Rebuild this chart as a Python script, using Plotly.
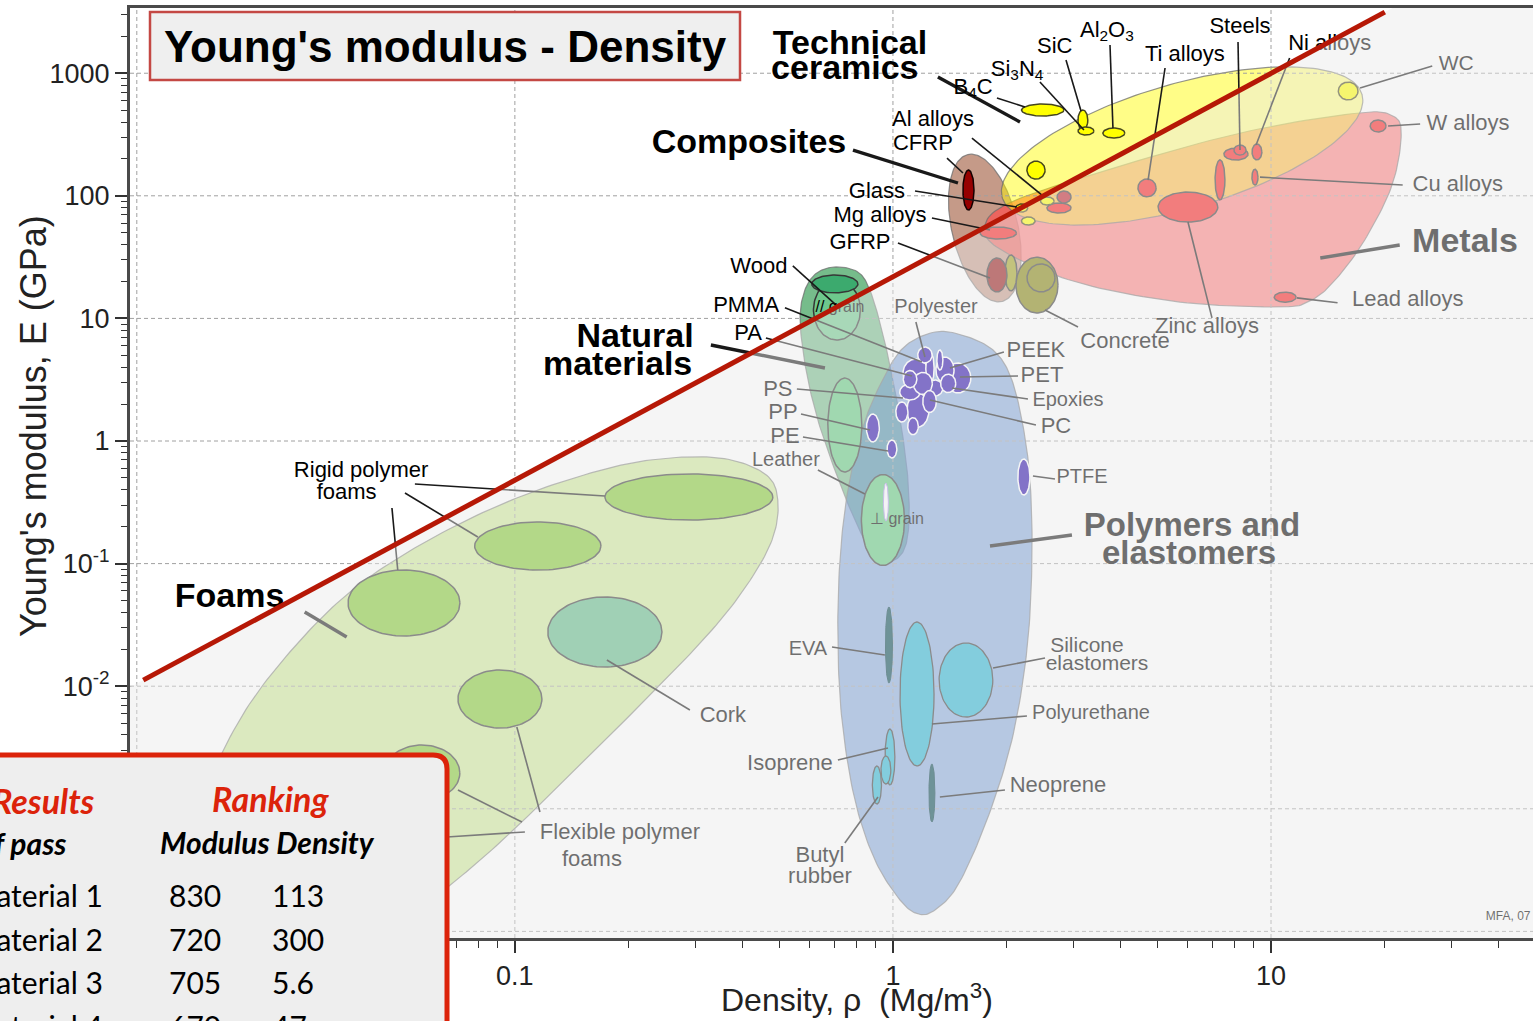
import numpy as np
import plotly.graph_objects as go

FONT = "Liberation Sans, Arial, sans-serif"
TABLE_FONT = "Lato, Carlito, sans-serif"

# ---------------- axes ----------------
X_RANGE = [-2.018, 1.693]   # log10 density (Mg/m3)
Y_RANGE = [-4.054, 3.532]   # log10 modulus (GPa)
W, H = 1533, 1021
M = dict(l=130, r=0, t=8, b=83)
PW = W - M["l"] - M["r"]
PH = H - M["t"] - M["b"]
# screen length of one x-decade relative to one y-decade
K = (PW / (X_RANGE[1] - X_RANGE[0])) / (PH / (Y_RANGE[1] - Y_RANGE[0]))

X_TICKS = [0.01, 0.1, 1, 10]
X_TICKTEXT = ["0.01", "0.1", "1", "10"]
Y_TICKS = [1e-4, 1e-3, 1e-2, 1e-1, 1, 10, 100, 1000]
Y_TICKTEXT = ["10<sup>-4</sup>", "10<sup>-3</sup>", "10<sup>-2</sup>", "10<sup>-1</sup>",
              "1", "10", "100", "1000"]
X_MINOR = [m * 10.0 ** k for k in range(-2, 2) for m in range(2, 10)]
Y_MINOR = [m * 10.0 ** k for k in range(-4, 4) for m in range(2, 10)]

# ---------------- selection line ----------------
LINE_RHO = [0.0104, 20.0]
LINE_E = [0.0112, 3150]

# ---------------- family envelopes ----------------
FOAMS_RHO = [0.496, 0.479, 0.406, 0.318, 0.221, 0.144, 0.0941, 0.0673, 0.0439, 0.0199,
             0.0151, 0.0151, 0.0187, 0.0254, 0.0366, 0.0561, 0.0913, 0.149, 0.228, 0.349, 0.459]
FOAMS_E = [0.330, 0.156, 0.0632, 0.0247, 0.00772, 0.00207, 0.000578, 0.000239, 0.0000935,
           0.0000935, 0.000262, 0.00118, 0.0053, 0.019, 0.0586, 0.142, 0.301, 0.518, 0.700,
           0.727, 0.538]

NATURAL_RHO = [0.707, 0.808, 0.869, 0.935, 1.0, 1.056, 1.096, 1.102, 1.063, 0.970, 0.880,
               0.793, 0.702, 0.633, 0.589, 0.568, 0.585, 0.629]
NATURAL_E = [26.3, 23.9, 17.05, 8.04, 3.145, 1.229, 0.481, 0.2065, 0.1244, 0.1031, 0.1244,
             0.2268, 0.580, 1.484, 3.794, 9.70, 17.05, 23.5]

POLYMER_RHO = [1.292, 1.551, 1.840, 2.040, 2.194, 2.304, 2.332, 2.262, 2.064, 1.773, 1.486,
               1.292, 1.165, 1.044, 0.896, 0.793, 0.733, 0.715, 0.724, 0.760, 0.828, 0.924, 1.063]
POLYMER_E = [7.75, 7.19, 5.525, 3.454, 1.484, 0.481, 0.107, 0.01974, 0.00364, 0.00081,
             0.000239, 0.0001495, 0.0001387, 0.0001803, 0.000382, 0.00118, 0.0053, 0.02381,
             0.107, 0.3984, 1.229, 2.862, 5.735]

METALS_RHO = [1.978, 3.53, 8.28, 16.9, 21.0, 22.1, 20.9, 17.7, 14.8, 12.8, 10.6, 5.74, 3.12,
              2.04, 1.75]
METALS_E = [84.1, 156, 325, 473, 448, 313, 122, 43.6, 20.6, 14.1, 12.4, 13.6, 19.4, 32.9, 50.7]

# centre (rho, E), half axes (in x-decade screen units), tilt in degrees
CERAMICS_ENV = (5.82, 255, 0.495, 0.165, 16)
COMPOSITES_ENV = (1.75, 54.6, 0.1995, 0.0873, 103)

# ---------------- material bubbles: centre and half-range in decades ----------------
FOAM_RHO = [0.2886, 0.1150, 0.0509, 0.0913, 0.0568]
FOAM_E = [0.3494, 0.1391, 0.04772, 0.00786, 0.00196]
FOAM_DR = [0.222, 0.167, 0.148, 0.111, 0.100]
FOAM_DE = [0.188, 0.196, 0.269, 0.237, 0.228]

CORK = (0.173, 0.02767, 0.151, 0.286)

NAT_RHO = [0.711, 0.702, 0.746, 0.941]
NAT_E = [11.7, 19.1, 1.35, 0.2268]
NAT_DR = [0.062, 0.061, 0.045, 0.057]
NAT_DE = [0.245, 0.073, 0.383, 0.371]
NAT_FILL = ["rgb(110,200,140)", "rgb(60,170,110)", "rgb(95,200,125)", "rgb(95,200,125)"]
GRAIN_STREAK = (0.958, 0.318, 0.0066, 0.155)

POLY_RHO = [0.885, 0.994, 2.22, 1.486, 1.373, 1.150, 1.253, 1.165, 1.109, 1.056, 1.292, 1.215,
            1.331, 1.20, 1.11, 1.25, 1.40, 1.13]
POLY_E = [1.277, 0.860, 0.5085, 3.265, 3.794, 3.586, 3.939, 1.790, 2.51, 1.724, 2.705, 5.03,
          4.58, 2.95, 3.20, 2.10, 2.95, 1.32]
POLY_DR = [0.017, 0.013, 0.016, 0.034, 0.024, 0.034, 0.011, 0.029, 0.027, 0.016, 0.021, 0.019,
           0.008, 0.025, 0.018, 0.018, 0.020, 0.014]
POLY_DE = [0.114, 0.073, 0.147, 0.122, 0.106, 0.114, 0.131, 0.139, 0.065, 0.082, 0.065, 0.065,
           0.082, 0.090, 0.070, 0.090, 0.075, 0.070]

ELAST_RHO = [1.158, 1.560, 0.982, 0.958, 0.907]
ELAST_E = [0.00864, 0.01123, 0.002646, 0.002072, 0.001563]
ELAST_DR = [0.045, 0.071, 0.013, 0.013, 0.012]
ELAST_DE = [0.587, 0.302, 0.228, 0.114, 0.155]

THIN_RHO = [0.976, 1.268]          # EVA, neoprene
THIN_E = [0.02168, 0.001345]
THIN_DR = [0.0093, 0.0079]
THIN_DE = [0.31, 0.2365]

METAL_RHO = [6.03, 7.33, 8.08, 8.28, 9.18, 9.07, 4.70, 19.2, 10.9, 2.75, 1.90]
METAL_E = [81.0, 135, 219, 236, 228, 142, 116, 371, 14.9, 79.5, 49.7]
METAL_DR = [0.079, 0.013, 0.032, 0.016, 0.013, 0.008, 0.024, 0.021, 0.029, 0.032, 0.048]
METAL_DE = [0.122, 0.163, 0.049, 0.041, 0.065, 0.065, 0.073, 0.049, 0.041, 0.041, 0.049]
STEEL_DARK = (2.835, 97.8, 0.0185, 0.049)

CERAMIC_RHO = [2.49, 3.18, 3.24, 3.84, 2.39, 16.0, 2.56, 2.28, 2.19]
CERAMIC_E = [501, 415, 338, 325, 162, 716, 90.7, 62.3, 79.5]
CERAMIC_DR = [0.056, 0.013, 0.021, 0.029, 0.024, 0.026, 0.018, 0.018, 0.016]
CERAMIC_DE = [0.049, 0.082, 0.033, 0.041, 0.073, 0.073, 0.033, 0.033, 0.033]

CONCRETE = [(2.404, 18.7, 0.0556, 0.228), (2.052, 23.5, 0.0159, 0.147)]
CONCRETE_CORE = (2.464, 21.4, 0.037, 0.114)
GFRP = (1.884, 22.6, 0.0265, 0.139)
CFRP = (1.584, 111.5, 0.0146, 0.163)

# ---------------- labels ----------------
LABEL_TEXT = [
    "<b>Technical</b>", "<b>ceramics</b>", "<b>Composites</b>", "<b>Natural</b>", "<b>materials</b>",
    "<b>Foams</b>", "<b>Metals</b>", "<b>Polymers and</b>", "<b>elastomers</b>",
    "SiC", "Al<sub>2</sub>O<sub>3</sub>", "Steels", "Ti alloys", "Ni alloys",
    "Si<sub>3</sub>N<sub>4</sub>", "B<sub>4</sub>C", "WC", "W alloys", "Cu alloys", "Lead alloys",
    "Zinc alloys", "Concrete", "Al alloys", "CFRP", "Glass", "Mg alloys", "GFRP", "Wood", "PMMA",
    "PA", "Polyester", "// grain", "PEEK", "PET", "Epoxies", "PC", "PS", "PP", "PE", "Leather",
    "PTFE", "⊥ grain", "EVA", "Silicone", "elastomers", "Polyurethane", "Isoprene", "Neoprene",
    "Butyl", "rubber", "Cork", "Flexible polymer", "foams", "Rigid polymer", "foams", "MFA, 07",
]
LABEL_RHO = [
    0.770, 0.746, 0.416, 0.208, 0.187, 0.0176, 32.6, 6.18, 6.07,
    2.68, 3.68, 8.28, 5.92, 14.3, 2.13, 1.63, 30.9, 33.2, 31.2, 23.0,
    6.77, 4.11, 1.276, 1.200, 0.907, 0.924, 0.818, 0.442, 0.409,
    0.414, 1.300, 0.724, 2.389, 2.479, 2.904, 2.699, 0.496, 0.512, 0.518, 0.521,
    3.162, 1.025, 0.596, 3.26, 3.465, 3.341, 0.534, 2.732,
    0.641, 0.641, 0.355, 0.1896, 0.1599, 0.0392, 0.0359, 42.4,
]
LABEL_E = [
    1698, 1062, 260, 6.92, 4.02, 0.0524, 40.5, 0.195, 0.115,
    1636, 2209, 2381, 1408, 1730, 1062, 757, 1166, 385, 122.5, 13.9,
    8.51, 6.42, 415, 260, 107.4, 67.2, 41.2, 25.8, 12.6,
    7.46, 12.2, 12.2, 5.42, 3.39, 2.12, 1.277, 2.606, 1.692, 1.078, 0.687,
    0.499, 0.2268, 0.01974, 0.02088, 0.01489, 0.005933, 0.002277, 0.001506,
    0.0004045, 0.0002727, 0.005609, 0.000623, 0.000382, 0.569, 0.3765, 0.000131,
]
LABEL_SIZE = [
    34, 34, 34, 34, 34, 34, 34, 33, 33,
    22, 22, 22, 22, 22, 22, 22, 21, 22, 22, 22,
    22, 22, 22, 22, 22, 22, 22, 22, 22,
    22, 20, 16, 22, 22, 20, 22, 22, 22, 22, 20,
    20, 16, 20, 21, 21, 20, 22, 22,
    22, 22, 22, 22, 22, 22, 22, 12,
]

# leader lines: (rho_a, E_a, rho_b, E_b)
LEADERS_THICK = [
    (1.315, 931, 2.168, 400), (0.784, 236, 1.486, 127.2), (0.330, 6.07, 0.661, 3.94),
    (0.0278, 0.0403, 0.0359, 0.0252), (21.9, 39.7, 13.5, 31.1), (2.975, 0.1711, 1.806, 0.1391),
]
LEADERS_THIN = [
    (2.869, 1281, 3.144, 492), (3.751, 1698, 3.819, 357), (8.18, 1797, 8.28, 236),
    (5.245, 1103, 4.73, 134.5), (11.2, 1331, 9.13, 260), (2.448, 848, 3.20, 344),
    (1.884, 628, 2.235, 530), (26.7, 1145, 17.2, 757), (24.8, 385, 20.4, 371),
    (22.3, 122.5, 9.35, 142), (15.0, 13.4, 11.7, 14.7), (6.98, 10.1, 6.03, 61.1),
    (3.087, 8.51, 2.525, 11.7), (1.618, 296, 2.479, 101.5), (1.390, 203, 1.532, 153.5),
    (1.144, 109.4, 2.128, 81.0), (1.268, 65.9, 1.806, 52.6), (1.031, 41.2, 1.806, 21.4),
    (0.5435, 26.8, 0.7067, 12.9), (0.518, 12.2, 1.193, 4.41), (0.4613, 6.92, 1.123, 3.39),
    (1.150, 9.35, 1.215, 4.84), (1.966, 5.32, 1.415, 3.94), (2.142, 3.39, 1.504, 3.327),
    (2.276, 2.20, 1.433, 2.705), (2.389, 1.35, 1.253, 2.16), (0.557, 2.656, 1.063, 2.242),
    (0.5712, 1.661, 0.8695, 1.229), (0.578, 1.078, 0.970, 0.829), (0.633, 0.580, 0.843, 0.3696),
    (2.346, 0.5183, 2.683, 0.49), (0.690, 0.02088, 0.952, 0.01797),
    (1.840, 0.01407, 2.525, 0.01698), (1.268, 0.004917, 2.262, 0.005713),
    (0.715, 0.0025, 0.970, 0.003132), (0.746, 0.000526, 0.913, 0.001248),
    (1.331, 0.001248, 1.978, 0.001423), (0.1751, 0.01636, 0.2904, 0.0064),
    (0.0544, 0.446, 0.173, 0.356), (0.0512, 0.3765, 0.0798, 0.1648), (0.0473, 0.2842, 0.049, 0.0887),
    (0.1165, 0.000942, 0.1012, 0.004647), (0.1063, 0.000647, 0.0661, 0.000589),
    (0.1044, 0.00078, 0.0707, 0.001423),
]

# ---------------- results table ----------------
TABLE_MATERIALS = ["Material 1", "Material 2", "Material 3", "Material 4"]
TABLE_MODULUS = [830, 720, 705, 670]
TABLE_DENSITY = [113, 300, 5.6, 47]


# ---------------- geometry helpers ----------------
def ellipse(rho, E, dr, de, n=100):
    t = np.linspace(0, 2 * np.pi, n)
    return 10 ** (np.log10(rho) + dr * np.cos(t)), 10 ** (np.log10(E) + de * np.sin(t))


def tilted_ellipse(rho, E, a, b, ang, n=200):
    t = np.linspace(0, 2 * np.pi, n)
    th = np.radians(ang)
    u, v = a * np.cos(t), b * np.sin(t)
    X = u * np.cos(th) - v * np.sin(th)
    Y = u * np.sin(th) + v * np.cos(th)
    return 10 ** (np.log10(rho) + X), 10 ** (np.log10(E) + Y * K)


def closed_spline(rhos, Es, per=14):
    P = np.column_stack([np.log10(rhos), np.log10(Es)])
    n = len(P)
    out = []
    for i in range(n):
        p0, p1, p2, p3 = P[(i - 1) % n], P[i], P[(i + 1) % n], P[(i + 2) % n]
        for t in np.linspace(0, 1, per, endpoint=False):
            out.append(0.5 * (2 * p1 + (-p0 + p2) * t + (2 * p0 - 5 * p1 + 4 * p2 - p3) * t * t
                              + (-p0 + 3 * p1 - 3 * p2 + p3) * t ** 3))
    out.append(out[0])
    out = np.array(out)
    return 10 ** out[:, 0], 10 ** out[:, 1]


def px(xp):
    return (xp - M["l"]) / PW


def py(yp):
    return (H - M["b"] - yp) / PH


fig = go.Figure()


def area(x, y, fill, line="rgba(110,110,110,0.75)", lw=1.2):
    fig.add_trace(go.Scatter(x=x, y=y, mode="lines", fill="toself", fillcolor=fill,
                             line=dict(color=line, width=lw), hoverinfo="skip", showlegend=False))


def blobs(rhos, Es, drs, des, fill, line="rgb(55,55,55)", lw=1.5):
    fills = fill if isinstance(fill, list) else [fill] * len(rhos)
    for r, e, dr, de, f in zip(rhos, Es, drs, des, fills):
        x, y = ellipse(r, e, dr, de)
        fig.add_trace(go.Scatter(x=x, y=y, mode="lines", fill="toself" if f else "none",
                                 fillcolor=f, line=dict(color=line, width=lw),
                                 hoverinfo="skip", showlegend=False))


# envelopes
area(*closed_spline(FOAMS_RHO, FOAMS_E), "rgba(180,220,100,0.65)")
area(*closed_spline(NATURAL_RHO, NATURAL_E), "rgba(60,160,90,0.7)")
area(*closed_spline(POLYMER_RHO, POLYMER_E), "rgba(40,100,190,0.55)")
area(*tilted_ellipse(*COMPOSITES_ENV), "rgba(172,111,85,0.7)")
area(*closed_spline(METALS_RHO, METALS_E), "rgba(252,79,79,0.7)")
area(*tilted_ellipse(*CERAMICS_ENV), "rgba(255,250,0,0.47)")

# decade grid
gx, gy = [], []
for v in X_TICKS:
    gx += [v, v, None]
    gy += [10 ** Y_RANGE[0], 10 ** Y_RANGE[1], None]
for v in Y_TICKS:
    gx += [10 ** X_RANGE[0], 10 ** X_RANGE[1], None]
    gy += [v, v, None]
fig.add_trace(go.Scatter(x=gx, y=gy, mode="lines", line=dict(color="rgb(160,160,160)", width=1, dash="4px,3px"),
                         hoverinfo="skip", showlegend=False))

# bubbles
blobs(FOAM_RHO, FOAM_E, FOAM_DR, FOAM_DE, "rgb(130,200,50)")
blobs([CORK[0]], [CORK[1]], [CORK[2]], [CORK[3]], "rgb(95,185,135)")
blobs(NAT_RHO, NAT_E, NAT_DR, NAT_DE, NAT_FILL)
blobs([GRAIN_STREAK[0]], [GRAIN_STREAK[1]], [GRAIN_STREAK[2]], [GRAIN_STREAK[3]],
      "rgb(252,252,255)", line="rgb(170,150,230)", lw=1)
blobs(ELAST_RHO, ELAST_E, ELAST_DR, ELAST_DE, "rgb(40,180,210)", lw=1.3)
blobs(THIN_RHO, THIN_E, THIN_DR, THIN_DE, "rgb(0,70,80)", line="rgb(0,60,70)", lw=1)
blobs(POLY_RHO, POLY_E, POLY_DR, POLY_DE, "rgb(40,10,170)", line="white", lw=1.5)
blobs([c[0] for c in CONCRETE], [c[1] for c in CONCRETE], [c[2] for c in CONCRETE],
      [c[3] for c in CONCRETE], ["rgb(130,130,10)", "rgb(160,160,30)"])
blobs([CONCRETE_CORE[0]], [CONCRETE_CORE[1]], [CONCRETE_CORE[2]], [CONCRETE_CORE[3]], None)
blobs([GFRP[0]], [GFRP[1]], [GFRP[2]], [GFRP[3]], "rgb(150,20,20)")
blobs(METAL_RHO, METAL_E, METAL_DR, METAL_DE, "rgb(250,30,30)")
blobs([STEEL_DARK[0]], [STEEL_DARK[1]], [STEEL_DARK[2]], [STEEL_DARK[3]], "rgb(190,30,40)")
blobs(CERAMIC_RHO, CERAMIC_E, CERAMIC_DR, CERAMIC_DE, "rgb(255,255,0)", line="rgb(70,70,30)")
blobs([CFRP[0]], [CFRP[1]], [CFRP[2]], [CFRP[3]], "rgb(150,0,0)", line="rgb(20,0,0)")


def leader_trace(segs, width):
    x, y = [], []
    for a, b, c, d in segs:
        x += [a, c, None]
        y += [b, d, None]
    fig.add_trace(go.Scatter(x=x, y=y, mode="lines", line=dict(color="rgb(25,25,25)", width=width),
                             hoverinfo="skip", showlegend=False))


leader_trace(LEADERS_THIN, 1.6)
leader_trace(LEADERS_THICK, 3.4)

fig.add_trace(go.Scatter(x=LABEL_RHO, y=LABEL_E, text=LABEL_TEXT, mode="text",
                         textposition="middle center",
                         textfont=dict(family=FONT, size=LABEL_SIZE, color="black"),
                         hoverinfo="skip", showlegend=False))

# shading of the region below the selection line
lx1, lx2 = np.log10(LINE_RHO)
ly1, ly2 = np.log10(LINE_E)
s = (ly2 - ly1) / (lx2 - lx1)
xa = X_RANGE[0] - 0.05
ya = ly1 + s * (xa - lx1)
yb = Y_RANGE[1] + 0.05
xb = lx1 + (yb - ly1) / s
ox = [xa, xb, X_RANGE[1] + 0.05, X_RANGE[1] + 0.05, xa, xa]
oy = [ya, yb, yb, Y_RANGE[0] - 0.05, Y_RANGE[0] - 0.05, ya]
fig.add_trace(go.Scatter(x=[10 ** v for v in ox], y=[10 ** v for v in oy], mode="lines",
                         fill="toself", fillcolor="rgba(234,234,234,0.47)", line=dict(width=0),
                         hoverinfo="skip", showlegend=False))

fig.add_trace(go.Scatter(x=LINE_RHO, y=LINE_E, mode="lines",
                         line=dict(color="rgb(182,24,6)", width=5),
                         hoverinfo="skip", showlegend=False))

# ---------------- layout ----------------
axis_common = dict(type="log", showgrid=False, zeroline=False, showline=True,
                   linecolor="#4a4a4a", linewidth=3, ticks="outside", ticklen=12, tickwidth=1.5,
                   tickcolor="#333", tickfont=dict(family=FONT, size=27, color="#222"))
fig.update_layout(
    width=W, height=H, margin=M, plot_bgcolor="white", paper_bgcolor="white",
    xaxis=dict(range=X_RANGE, tickvals=X_TICKS, ticktext=X_TICKTEXT, mirror=True,
               minor=dict(ticks="outside", ticklen=7, tickwidth=1.2, tickcolor="#333",
                          tickvals=X_MINOR, showgrid=False), **axis_common),
    yaxis=dict(range=Y_RANGE, tickvals=Y_TICKS, ticktext=Y_TICKTEXT,
               minor=dict(ticks="outside", ticklen=6, tickwidth=1.2, tickcolor="#333",
                          tickvals=Y_MINOR, showgrid=False), **axis_common),
)

shapes = [
    dict(type="rect", xref="paper", yref="paper", x0=px(150), x1=px(740), y0=py(80), y1=py(12),
         fillcolor="#efefef", line=dict(color="rgb(196,72,68)", width=2.5), layer="above"),
]
tx0, tx1, tyt, tyb = px(-20), px(447), py(755), py(1045)
rx, ry = 14 / PW, 14 / PH
shapes.append(dict(
    type="path", xref="paper", yref="paper", layer="above",
    path=f"M {tx0},{tyb} L {tx0},{tyt} L {tx1 - rx},{tyt} Q {tx1},{tyt} {tx1},{tyt - ry} L {tx1},{tyb} Z",
    fillcolor="rgb(238,238,238)", line=dict(color="rgb(220,35,10)", width=5)))
fig.update_layout(shapes=shapes)

ann = [
    dict(x=px(445), y=py(46), text="<b>Young's modulus - Density</b>",
         font=dict(family=FONT, size=44, color="black")),
    dict(x=px(33), y=py(426), text="Young's modulus, E (GPa)", textangle=-90,
         font=dict(family=FONT, size=36, color="#222")),
    dict(x=px(857), y=py(998), text="Density, \u03c1\u00a0 (Mg/m<sup>3</sup>)",
         font=dict(family=FONT, size=32, color="#222")),
    dict(x=px(97), y=py(800), text="<b><i>Results</i></b>", xanchor="right",
         font=dict(family=TABLE_FONT, size=34, color="rgb(220,35,10)")),
    dict(x=px(270), y=py(798), text="<b><i>Ranking</i></b>",
         font=dict(family=TABLE_FONT, size=34, color="rgb(220,35,10)")),
    dict(x=px(68), y=py(843), text="<b><i># of pass</i></b>", xanchor="right",
         font=dict(family=TABLE_FONT, size=30, color="black")),
    dict(x=px(158), y=py(842), text="<b><i>Modulus Density</i></b>", xanchor="left",
         font=dict(family=TABLE_FONT, size=30, color="black")),
]
for i, (name, mod, den) in enumerate(zip(TABLE_MATERIALS, TABLE_MODULUS, TABLE_DENSITY)):
    yy = py(895 + 43.5 * i)
    ann.append(dict(x=px(105), y=yy, text=name, xanchor="right",
                    font=dict(family=TABLE_FONT, size=30, color="black")))
    ann.append(dict(x=px(167), y=yy, text=f"{mod:g}", xanchor="left",
                    font=dict(family=TABLE_FONT, size=30, color="black")))
    ann.append(dict(x=px(270), y=yy, text=f"{den:g}", xanchor="left",
                    font=dict(family=TABLE_FONT, size=30, color="black")))
for a in ann:
    a.setdefault("xanchor", "center")
    a.update(xref="paper", yref="paper", yanchor="middle", showarrow=False)
fig.update_layout(annotations=ann)

fig.write_html("out.html")
